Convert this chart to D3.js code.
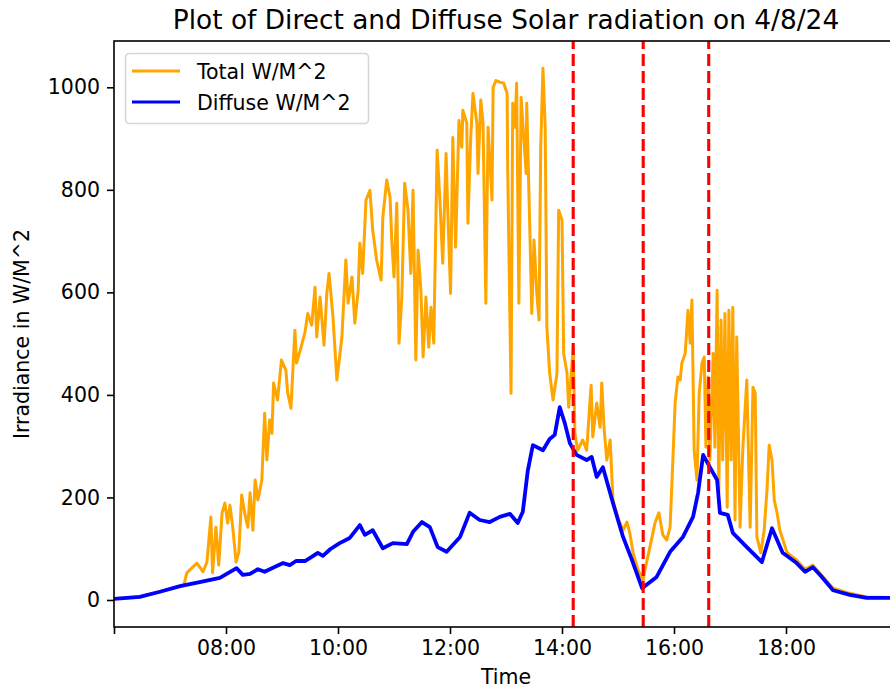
<!DOCTYPE html>
<html lang="en">
<head>
  <meta charset="UTF-8">
  <title>Direct and Diffuse Solar radiation 4/8/24</title>
  <style>
    body {
      margin: 0;
      background: #fff;
    }
    svg text {
      font-family: 'DejaVu Sans', sans-serif;
      fill: #000;
    }
    .axis path, .axis line {
      stroke: #000;
      stroke-width: 1.6px;
    }
    .axis text {
      font-size: 20.5px;
    }
  </style>
  <script src="https://d3js.org/d3.v7.min.js"></script>
</head>
<body>
  <svg id="chart" width="890" height="690"></svg>

  <script>
    // hours after midnight, W/M^2
    const diffuseHour = [5.98, 6.46, 6.82, 7.18, 7.53, 7.89, 8.19, 8.30, 8.43, 8.57, 8.69, 8.82, 9.02, 9.14,
      9.25, 9.41, 9.53, 9.64, 9.73, 9.86, 10.03, 10.21, 10.39, 10.48, 10.62, 10.80, 10.98, 11.23, 11.34,
      11.50, 11.64, 11.78, 11.94, 12.18, 12.35, 12.53, 12.71, 12.89, 13.07, 13.21, 13.30, 13.39, 13.48,
      13.66, 13.78, 13.87, 13.96, 14.05, 14.14, 14.26, 14.44, 14.53, 14.62, 14.73, 14.91, 15.09, 15.25,
      15.43, 15.69, 15.93, 16.16, 16.34, 16.43, 16.52, 16.64, 16.77, 16.82, 16.96, 17.05, 17.30, 17.57,
      17.75, 17.94, 18.19, 18.34, 18.48, 18.64, 18.84, 19.14, 19.44, 19.85, 20.0];
    const diffuseWm2 = [2, 6, 16, 27, 35, 43, 62, 49, 51, 60, 55, 62, 72, 68,
      76, 76, 84, 92, 86, 99, 111, 121, 146, 127, 136, 101, 111, 109, 133,
      152, 142, 103, 94, 123, 170, 156, 152, 162, 168, 150, 172, 253, 302,
      292, 314, 322, 376, 345, 306, 283, 273, 279, 240, 259, 189, 123, 78,
      23, 45, 94, 123, 162, 209, 283, 259, 234, 170, 166, 131, 103, 74,
      140, 92, 72, 55, 64, 45, 19, 10, 4, 4, 3];

    const totalHour = [5.98, 6.46, 6.82, 7.18, 7.25, 7.30, 7.48, 7.59, 7.66, 7.73, 7.76, 7.82, 7.87, 7.93,
      7.98, 8.03, 8.07, 8.12, 8.18, 8.23, 8.28, 8.34, 8.39, 8.43, 8.48, 8.52, 8.57, 8.64, 8.69, 8.73, 8.78,
      8.82, 8.85, 8.92, 8.99, 9.07, 9.10, 9.16, 9.23, 9.26, 9.34, 9.41, 9.46, 9.53, 9.59, 9.62, 9.68, 9.75,
      9.80, 9.84, 9.91, 9.98, 10.07, 10.14, 10.18, 10.25, 10.30, 10.36, 10.39, 10.44, 10.50, 10.57, 10.62,
      10.69, 10.77, 10.80, 10.87, 10.93, 10.96, 11.00, 11.05, 11.09, 11.14, 11.19, 11.25, 11.30, 11.34,
      11.39, 11.43, 11.48, 11.52, 11.57, 11.62, 11.66, 11.71, 11.77, 11.82, 11.87, 11.93, 11.96, 12.01,
      12.05, 12.10, 12.16, 12.21, 12.23, 12.30, 12.32, 12.37, 12.41, 12.48, 12.50, 12.55, 12.59, 12.64,
      12.68, 12.75, 12.77, 12.82, 12.89, 12.96, 13.02, 13.03, 13.09, 13.12, 13.16, 13.19, 13.23, 13.27,
      13.30, 13.36, 13.37, 13.43, 13.46, 13.50, 13.55, 13.59, 13.62, 13.66, 13.70, 13.73, 13.78, 13.84,
      13.91, 13.94, 14.00, 14.03, 14.09, 14.12, 14.20, 14.23, 14.28, 14.37, 14.44, 14.52, 14.55, 14.62,
      14.68, 14.71, 14.75, 14.80, 14.86, 14.91, 15.00, 15.09, 15.16, 15.21, 15.27, 15.36, 15.45, 15.48,
      15.57, 15.66, 15.73, 15.80, 15.87, 15.93, 15.98, 16.02, 16.07, 16.11, 16.14, 16.20, 16.25, 16.29,
      16.32, 16.36, 16.41, 16.45, 16.50, 16.54, 16.57, 16.61, 16.64, 16.70, 16.73, 16.77, 16.80, 16.84,
      16.87, 16.91, 16.95, 16.98, 17.02, 17.05, 17.09, 17.12, 17.18, 17.23, 17.30, 17.36, 17.41, 17.45,
      17.48, 17.55, 17.61, 17.66, 17.70, 17.75, 17.79, 17.84, 17.89, 18.02, 18.19, 18.34, 18.48, 18.64,
      18.84, 19.14, 19.44, 19.85, 20.0];
    const totalWm2 = [2, 6, 16, 27, 30, 53, 72, 55, 74, 162, 53, 142, 68, 170,
      189, 150, 185, 142, 74, 94, 205, 166, 142, 209, 136, 234, 195, 234, 364, 273, 351,
      325, 423, 390, 468, 448, 405, 374, 526, 462, 493, 522, 559, 536, 610, 513, 591, 497,
      598, 637, 552, 429, 513, 663, 579, 630, 540, 604, 696, 637, 780, 799, 721,
      663, 624, 746, 819, 785, 702, 630, 774, 501, 591, 813, 760, 637, 799,
      468, 682, 604, 474, 591, 493, 571, 501, 877, 780, 657, 871, 760, 598,
      902, 688, 935, 883, 955, 930, 735, 902, 988, 930, 832, 975, 930, 579,
      922, 780, 1000, 1013, 1010, 1008, 988, 844, 403, 969, 922, 1008, 579, 980,
      930, 832, 969, 702, 559, 702, 598, 546, 883, 1037, 922, 532, 442, 390,
      442, 760, 741, 481, 442, 376, 493, 325, 292, 312, 292, 419, 318, 384,
      337, 423, 337, 273, 312, 195, 160, 136, 152, 131, 92, 58, 39, 58,
      103, 150, 170, 127, 117, 142, 273, 384, 435, 429, 462, 481, 565, 501,
      585, 292, 234, 403, 462, 474, 298, 435, 273, 481, 298, 604, 209, 546,
      273, 559, 181, 565, 273, 571, 156, 513, 142, 298, 429, 142, 415, 403,
      123, 92, 136, 214, 302, 273, 195, 170, 136, 92, 78, 60, 68, 48,
      23, 13, 6, 5, 4];

    // eclipse contact times
    const contactHour = [14.2, 15.45, 16.62];
    const yTicks = [0, 200, 400, 600, 800, 1000];

    const day = new Date(2024, 3, 8);
    const toDate = h => new Date(day.getTime() + h * 3600e3);

    const svg = d3.select("#chart");
    const plotLeft = 114, plotRight = 898, plotTop = 41, plotBottom = 627;

    const x = d3.scaleTime()
      .domain([toDate(6), toDate(20)])
      .range([plotLeft, plotRight]);
    const y = d3.scaleLinear()
      .domain([-52.7, 1090.3])
      .range([plotBottom, plotTop]);

    svg.append("clipPath").attr("id", "plot")
      .append("rect")
      .attr("x", plotLeft).attr("y", plotTop)
      .attr("width", plotRight - plotLeft).attr("height", plotBottom - plotTop);

    const line = d3.line()
      .x(d => x(toDate(d[0])))
      .y(d => y(d[1]));

    const plot = svg.append("g").attr("clip-path", "url(#plot)");

    plot.append("path")
      .datum(d3.zip(totalHour, totalWm2))
      .attr("fill", "none")
      .attr("stroke", "orange")
      .attr("stroke-width", 3)
      .attr("stroke-linejoin", "round")
      .attr("d", line);

    plot.append("path")
      .datum(d3.zip(diffuseHour, diffuseWm2))
      .attr("fill", "none")
      .attr("stroke", "blue")
      .attr("stroke-width", 3.8)
      .attr("stroke-linejoin", "round")
      .attr("d", line);

    plot.selectAll(".contact")
      .data(contactHour)
      .enter().append("line")
      .attr("class", "contact")
      .attr("x1", d => x(toDate(d))).attr("x2", d => x(toDate(d)))
      .attr("y1", plotBottom).attr("y2", plotTop)
      .attr("stroke", "red")
      .attr("stroke-width", 3.1)
      .attr("stroke-dasharray", "12,5");

    // axes
    const fmt = d3.timeFormat("%H:%M");
    const xAxis = d3.axisBottom(x)
      .ticks(d3.timeHour.every(2))
      .tickSize(7)
      .tickPadding(6)
      .tickFormat(d => (d.getHours() === 6 || d.getHours() === 20) ? "" : fmt(d));
    svg.append("g")
      .attr("class", "axis")
      .attr("transform", `translate(0,${plotBottom})`)
      .call(xAxis)
      .call(g => g.select(".domain").remove());

    svg.append("g")
      .attr("class", "axis")
      .attr("transform", `translate(${plotLeft},0)`)
      .call(d3.axisLeft(y).tickValues(yTicks).tickFormat(d3.format("d")).tickSize(7).tickPadding(7))
      .call(g => g.select(".domain").remove());

    // frame
    svg.append("rect")
      .attr("x", plotLeft).attr("y", plotTop)
      .attr("width", plotRight - plotLeft).attr("height", plotBottom - plotTop)
      .attr("fill", "none")
      .attr("stroke", "#000")
      .attr("stroke-width", 1.6);

    // labels
    svg.append("text")
      .attr("x", (plotLeft + plotRight) / 2).attr("y", 29)
      .attr("text-anchor", "middle")
      .style("font-size", "26.4px")
      .text("Plot of Direct and Diffuse Solar radiation on 4/8/24");

    svg.append("text")
      .attr("x", (plotLeft + plotRight) / 2).attr("y", 684)
      .attr("text-anchor", "middle")
      .style("font-size", "20.5px")
      .text("Time");

    svg.append("text")
      .attr("transform", "translate(29,334) rotate(-90)")
      .attr("text-anchor", "middle")
      .style("font-size", "20.5px")
      .text("Irradiance in W/M^2");

    // legend
    const legend = svg.append("g");
    legend.append("rect")
      .attr("x", 125.5).attr("y", 53.5)
      .attr("width", 243).attr("height", 70)
      .attr("rx", 4)
      .attr("fill", "#fff").attr("fill-opacity", 0.8)
      .attr("stroke", "#d6d6d6").attr("stroke-width", 1.6);

    const legendItems = [["Total W/M^2", "orange"], ["Diffuse W/M^2", "blue"]];
    legendItems.forEach((item, i) => {
      const ly = 71 + i * 31;
      legend.append("line")
        .attr("x1", 132).attr("x2", 180)
        .attr("y1", ly).attr("y2", ly)
        .attr("stroke", item[1]).attr("stroke-width", 3.1);
      legend.append("text")
        .attr("x", 197).attr("y", ly + 7.5)
        .style("font-size", "20.5px")
        .text(item[0]);
    });
  </script>
</body>
</html>
